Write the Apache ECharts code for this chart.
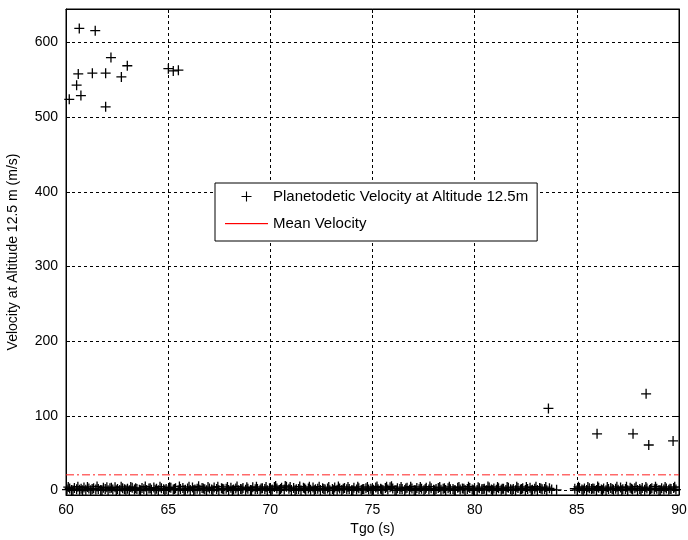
<!DOCTYPE html>
<html>
<head>
<meta charset="utf-8">
<script src="https://cdn.jsdelivr.net/npm/echarts@6/dist/echarts.min.js"></script>
<style>html,body{margin:0;padding:0;background:#fff}#c{width:688px;height:540px}</style>
</head>
<body>
<div id="c"></div>
<script>
// Outlier points (Tgo s, velocity m/s)
const tgoHigh = [60.65,61.43,62.20,63.00,60.60,61.29,61.94,62.71,60.52,60.73,60.16,61.94,65.01,65.25,65.50];
const velHigh = [619,616,580,569,558,559,559,554,543,529,524,514,565,562,563];
const tgoLow = [83.61,88.39,85.99,87.75,88.52,89.71];
const velLow = [110,129.5,76,76,61,66.5];
// Dense band of near-zero velocities [Tgo, velocity]
const bandPoints = [[60.05,1.2],[60.18,2.8],[60.27,0.6],[60.41,3.4],[60.52,1.7],[60.66,0.9],[60.74,2.3],[60.88,4.1],[60.97,1.1],[61.12,2.6],[61.21,0.4],[61.35,3.0],[61.46,1.5],[61.58,2.2],[61.70,0.8],[61.83,3.7],[61.92,1.9],[62.06,0.5],[62.15,2.9],[62.29,1.3],[62.40,4.4],[62.52,2.0],[62.63,0.7],[62.77,3.2],[62.86,1.6],[63.01,2.5],[63.10,0.3],[63.24,3.8],[63.35,1.4],[63.47,2.1],[63.59,0.9],[63.72,3.5],[63.81,1.8],[63.95,0.6],[64.06,2.7],[64.18,1.0],[64.30,4.0],[64.43,2.4],[64.52,0.5],[64.67,3.1],[64.78,1.7],[64.90,2.2],[65.01,0.8],[65.13,3.6],[65.25,1.2],[65.36,2.9],[65.49,0.4],[65.60,1.9],[65.72,3.3],[65.84,1.1],[65.95,2.6],[66.08,0.7],[66.19,4.2],[66.31,1.5],[66.42,2.3],[66.55,0.9],[66.66,3.4],[66.79,1.8],[66.88,0.5],[67.02,2.8],[67.13,1.3],[67.25,3.9],[67.37,2.0],[67.48,0.6],[67.61,3.0],[67.72,1.6],[67.84,2.4],[67.96,0.8],[68.07,3.7],[68.20,1.4],[68.31,2.7],[68.43,0.3],[68.55,2.1],[68.66,3.5],[68.79,1.0],[68.90,2.5],[69.03,0.7],[69.14,4.3],[69.26,1.7],[69.37,2.2],[69.50,0.9],[69.61,3.2],[69.73,1.9],[69.85,0.4],[69.96,2.9],[70.09,1.2],[70.20,4.6],[70.32,2.6],[70.44,0.8],[70.55,3.8],[70.68,1.5],[70.79,5.0],[70.91,2.3],[71.03,0.6],[71.14,3.3],[71.27,1.8],[71.38,2.0],[71.50,0.5],[71.62,3.6],[71.73,1.1],[71.86,2.7],[71.97,0.9],[72.09,4.0],[72.21,1.6],[72.32,2.4],[72.45,0.7],[72.56,3.1],[72.68,1.3],[72.80,2.8],[72.91,0.4],[73.04,2.2],[73.15,3.9],[73.27,1.0],[73.39,2.6],[73.50,0.8],[73.63,3.4],[73.74,1.7],[73.86,2.1],[73.98,0.5],[74.09,3.7],[74.22,1.4],[74.33,2.9],[74.45,0.6],[74.57,2.0],[74.68,3.2],[74.81,1.2],[74.92,2.5],[75.04,0.9],[75.16,4.1],[75.27,1.8],[75.40,2.3],[75.51,0.7],[75.63,3.5],[75.75,1.5],[75.86,4.4],[75.99,2.6],[76.10,0.4],[76.22,3.0],[76.34,1.9],[76.45,2.2],[76.58,0.8],[76.69,3.8],[76.81,1.1],[76.93,2.7],[77.04,0.6],[77.17,3.3],[77.28,1.6],[77.40,2.4],[77.52,0.5],[77.63,3.6],[77.76,1.3],[77.87,2.9],[77.99,0.9],[78.11,2.0],[78.22,3.4],[78.35,1.0],[78.46,2.5],[78.58,0.7],[78.70,3.1],[78.81,1.7],[78.94,2.2],[79.05,0.4],[79.17,3.7],[79.29,1.4],[79.40,2.8],[79.53,0.8],[79.64,2.1],[79.76,3.5],[79.88,1.2],[79.99,2.6],[80.12,0.6],[80.23,3.0],[80.35,1.8],[80.47,2.3],[80.58,0.5],[80.71,3.9],[80.82,1.5],[80.94,2.7],[81.06,0.9],[81.17,3.2],[81.30,1.1],[81.41,2.4],[81.53,0.7],[81.65,3.6],[81.76,1.6],[81.89,2.0],[82.00,0.4],[82.12,3.3],[82.24,1.3],[82.35,2.9],[82.48,0.8],[82.59,2.2],[82.71,3.8],[82.83,1.0],[82.94,2.5],[83.07,0.6],[83.18,3.4],[83.30,1.7],[83.42,2.1],[83.53,0.5],[83.66,3.0],[83.77,1.4],[84.01,0.9],[84.90,2.4],[85.02,0.7],[85.13,3.5],[85.25,1.2],[85.37,2.8],[85.48,0.6],[85.61,3.1],[85.72,1.9],[85.84,2.3],[85.96,0.8],[86.07,3.7],[86.20,1.5],[86.31,2.7],[86.43,0.4],[86.55,2.0],[86.66,3.3],[86.79,1.1],[86.90,2.5],[87.02,0.9],[87.14,3.9],[87.25,1.6],[87.38,2.2],[87.49,0.5],[87.61,3.6],[87.73,1.3],[87.84,2.9],[87.97,0.7],[88.08,2.1],[88.20,3.4],[88.32,1.0],[88.43,2.6],[88.56,0.8],[88.67,3.0],[88.79,1.8],[88.91,2.4],[89.02,0.6],[89.15,3.2],[89.26,1.4],[89.38,2.8],[89.50,0.9],[89.61,2.0],[89.74,3.5],[89.85,1.2]];
const bandPoints2 = [[60.11,4.6],[60.34,0.2],[60.58,5.2],[60.81,0.3],[61.05,4.8],[61.28,1.9],[61.52,5.4],[61.76,0.2],[62.00,4.5],[62.22,3.6],[62.46,0.2],[62.70,5.0],[62.93,1.0],[63.17,4.7],[63.41,2.9],[63.65,0.2],[63.88,5.3],[64.12,3.2],[64.36,0.9],[64.60,5.1],[64.84,0.2],[65.07,4.4],[65.31,2.2],[65.55,5.5],[65.78,0.3],[66.02,4.9],[66.25,0.2],[66.49,5.6],[66.72,2.8],[66.95,4.6],[67.19,0.2],[67.43,5.2],[67.66,2.5],[67.90,4.8],[68.14,0.2],[68.37,5.4],[68.61,1.7],[68.85,4.5],[69.08,0.3],[69.32,5.0],[69.55,2.7],[69.79,4.7],[70.03,0.2],[70.26,5.9],[70.50,1.9],[70.73,6.2],[70.97,4.6],[71.21,0.2],[71.44,5.3],[71.68,2.6],[71.91,4.9],[72.15,0.2],[72.39,5.1],[72.62,2.0],[72.86,4.6],[73.10,0.2],[73.33,5.4],[73.57,2.3],[73.80,4.8],[74.04,0.2],[74.28,5.0],[74.51,1.8],[74.75,4.7],[74.98,0.3],[75.22,5.5],[75.45,1.2],[75.69,4.9],[75.93,5.6],[76.16,0.2],[76.40,4.6],[76.63,2.8],[76.87,5.2],[77.11,0.2],[77.34,4.8],[77.58,2.0],[77.81,5.3],[78.05,0.2],[78.29,4.6],[78.52,2.9],[78.76,5.0],[79.00,0.2],[79.23,4.7],[79.47,2.4],[79.70,5.1],[79.94,0.3],[80.17,4.5],[80.41,2.0],[80.65,5.4],[80.88,0.2],[81.12,4.8],[81.35,2.5],[81.59,4.6],[81.83,0.2],[82.06,5.0],[82.30,2.1],[82.53,4.7],[82.77,0.2],[83.00,5.2],[83.24,2.7],[83.48,4.6],[85.08,5.0],[85.31,0.2],[85.54,4.8],[85.78,2.6],[86.02,5.3],[86.25,0.2],[86.49,4.6],[86.73,2.2],[86.96,5.0],[87.20,0.2],[87.43,4.9],[87.67,2.4],[87.90,5.2],[88.14,0.2],[88.38,4.6],[88.61,2.0],[88.85,5.1],[89.08,0.2],[89.32,4.7],[89.56,2.3],[89.79,5.0]];
const meanVelocity = 21;
const xRange = [60, 90];
const yTicks = [0, 100, 200, 300, 400, 500, 600];
const seriesNames = ['Planetodetic Velocity at Altitude 12.5m', 'Mean Velocity'];

const scatterData = [];
tgoHigh.forEach((t, i) => scatterData.push([t, velHigh[i]]));
tgoLow.forEach((t, i) => scatterData.push([t, velLow[i]]));
bandPoints.forEach(p => scatterData.push(p));
bandPoints2.forEach(p => scatterData.push(p));

const RED = '#ff2020';
const plusPath = 'path://M4.35,0H5.65V4.35H10V5.65H5.65V10H4.35V5.65H0V4.35H4.35Z';
// legend icons drawn in a 43x14 box
const plusLegend = 'path://M0,0M43,14M20.95,2H22.05V6.45H26.5V7.55H22.05V12H20.95V7.55H16.5V6.45H20.95Z';
const lineSvg = "<svg xmlns='http://www.w3.org/2000/svg' width='43' height='14' viewBox='0 0 43 14'>" +
                "<rect x='0' y='6.5' width='43' height='1.2' fill='#ff0000'/></svg>";
const lineLegend = 'image://data:image/svg+xml;charset=utf-8,' + encodeURIComponent(lineSvg);
const FONT = 'Liberation Sans';
const FS = 14;

const chart = echarts.init(document.getElementById('c'), null, {renderer: 'canvas'});
const gridLine = {show: true, lineStyle: {color: '#000', width: 1, type: [3, 3]}};
chart.setOption({
  animation: false,
  backgroundColor: '#fff',
  grid: {left: 66, right: 9, top: 9, bottom: 45, show: true, borderColor: '#000', borderWidth: 1,
         containLabel: false, outerBoundsMode: 'none'},
  legend: {
    orient: 'vertical', left: 215, top: 183,
    backgroundColor: '#fff', borderColor: '#000', borderWidth: 1,
    padding: [6, 9, 10, 10], itemGap: 12, itemWidth: 43, itemHeight: 14,
    symbolKeepAspect: false,
    textStyle: {fontFamily: FONT, fontSize: 15, color: '#000'},
    data: [
      {name: seriesNames[0], icon: plusLegend},
      {name: seriesNames[1], icon: lineLegend}
    ]
  },
  xAxis: [{
    type: 'value', min: xRange[0], max: xRange[1], interval: 5,
    name: 'Tgo (s)', nameLocation: 'middle', nameGap: 23,
    nameTextStyle: {fontFamily: FONT, fontSize: FS, color: '#000'},
    axisLine: {show: true, onZero: false, lineStyle: {color: '#000', width: 1}},
    axisTick: {show: true, inside: true, length: 4, lineStyle: {color: '#000'}},
    axisLabel: {fontFamily: FONT, fontSize: FS, color: '#000', margin: 8},
    splitLine: gridLine
  }, {
    type: 'value', position: 'top', min: xRange[0], max: xRange[1], interval: 5,
    axisLine: {show: true, onZero: false, lineStyle: {color: '#000'}},
    axisTick: {show: true, inside: true, length: 4, lineStyle: {color: '#000'}},
    axisLabel: {show: false}, splitLine: {show: false}
  }],
  yAxis: [{
    type: 'value', min: -6, max: 645,
    name: 'Velocity at Altitude 12.5 m (m/s)', nameLocation: 'middle', nameGap: 46,
    nameTextStyle: {fontFamily: FONT, fontSize: FS, color: '#000'},
    axisLine: {show: true, onZero: false, lineStyle: {color: '#000', width: 1}},
    axisTick: {show: true, inside: true, length: 4, customValues: yTicks, lineStyle: {color: '#000'}},
    axisLabel: {fontFamily: FONT, fontSize: FS, color: '#000', margin: 8, customValues: yTicks},
    splitLine: gridLine
  }, {
    type: 'value', position: 'right', min: -6, max: 645,
    axisLine: {show: true, onZero: false, lineStyle: {color: '#000'}},
    axisTick: {show: true, inside: true, length: 4, customValues: yTicks, lineStyle: {color: '#000'}},
    axisLabel: {show: false}, splitLine: {show: false}
  }],
  series: [{
    name: seriesNames[0], type: 'scatter', xAxisIndex: 0, yAxisIndex: 0,
    symbol: plusPath, symbolSize: 10,
    itemStyle: {color: '#000', opacity: 1},
    data: scatterData, z: 3
  }, {
    name: seriesNames[1], type: 'line', xAxisIndex: 0, yAxisIndex: 0,
    symbol: 'none', showSymbol: false,
    lineStyle: {color: RED, width: 1, type: [8, 3, 2, 3]},
    itemStyle: {color: RED},
    data: [[xRange[0], meanVelocity], [xRange[1], meanVelocity]], z: 2
  }]
});
</script>
</body>
</html>
